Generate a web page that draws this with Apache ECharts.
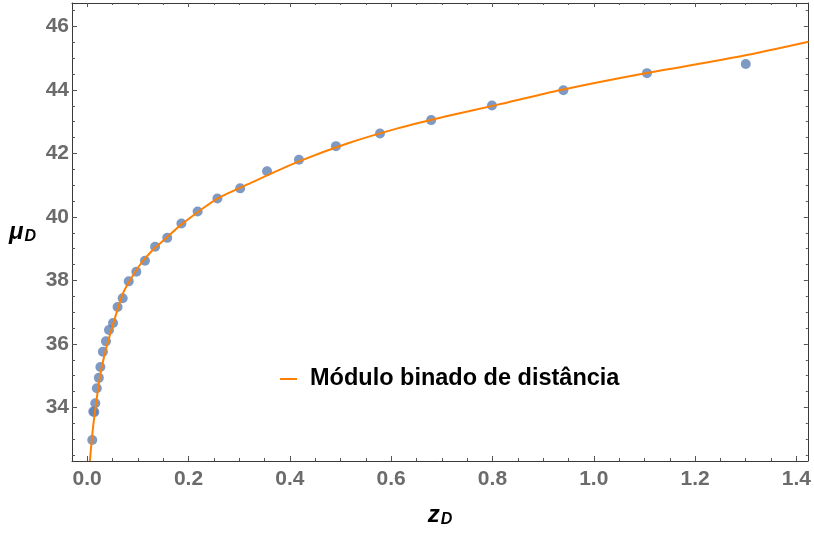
<!DOCTYPE html>
<html>
<head>
<meta charset="utf-8">
<title>Módulo de distância</title>
<script src="https://cdn.jsdelivr.net/npm/echarts@6/dist/echarts.min.js"></script>
<style>
  html, body { margin: 0; padding: 0; background: #ffffff; }
  #chart { width: 814px; height: 534px; }
</style>
</head>
<body>
<div id="chart"></div>
<script>
// Binned supernova redshifts and distance moduli
const zBins = [0.010, 0.012, 0.014, 0.016, 0.019, 0.023, 0.026, 0.031, 0.037, 0.043,
               0.051, 0.060, 0.070, 0.082, 0.097, 0.114, 0.134, 0.158, 0.186, 0.218,
               0.257, 0.302, 0.355, 0.418, 0.491, 0.578, 0.679, 0.799, 0.940, 1.105, 1.300];
const muBins = [32.97, 33.87, 33.85, 34.13, 34.60, 34.93, 35.27, 35.75, 36.08, 36.44,
                36.66, 37.16, 37.44, 37.97, 38.27, 38.62, 39.06, 39.34, 39.79, 40.17,
                40.58, 40.90, 41.44, 41.80, 42.23, 42.63, 43.05, 43.51, 43.99, 44.53, 44.82];

// Model curve samples
const zCurve = [0.0053, 0.0072, 0.0117, 0.0184, 0.0263, 0.0366, 0.0478, 0.0576, 0.0705, 0.0870,
                0.1066, 0.1294, 0.1556, 0.1850, 0.2242, 0.2570, 0.3188, 0.4168, 0.5148, 0.6128,
                0.7108, 0.8087, 0.9347, 1.0993, 1.2928, 1.4240];
const muCurve = [32.31, 32.66, 33.39, 34.23, 35.07, 35.81, 36.44, 36.96, 37.59, 38.07,
                 38.54, 38.96, 39.33, 39.75, 40.22, 40.58, 41.04, 41.74, 42.32, 42.79,
                 43.18, 43.53, 44.00, 44.52, 45.07, 45.52];

// Tick values
const xMajor = [0.0, 0.2, 0.4, 0.6, 0.8, 1.0, 1.2, 1.4];
const xMinor = [0.05, 0.1, 0.15, 0.25, 0.3, 0.35, 0.45, 0.5, 0.55, 0.65, 0.7, 0.75,
                0.85, 0.9, 0.95, 1.05, 1.1, 1.15, 1.25, 1.3, 1.35];
const yMajor = [34, 36, 38, 40, 42, 44, 46];
const yMinor = [32.5, 33, 33.5, 34.5, 35, 35.5, 36.5, 37, 37.5, 38.5, 39, 39.5,
                40.5, 41, 41.5, 42.5, 43, 43.5, 44.5, 45, 45.5, 46.5];

const seriesName = 'Módulo binado de distância';

const X_MIN = -0.030, X_MAX = 1.4226;
const Y_MIN = 32.31, Y_MAX = 46.74;

const frameColor = '#3a3a3a';
const tickColor = '#555555';
const labelStyle = {
  color: '#6b6b6b',
  fontFamily: '"Liberation Sans", Arial, sans-serif',
  fontWeight: 'bold',
  fontSize: 21
};

function xAxisDef(position, ticks, len, opts) {
  return Object.assign({
    type: 'value',
    position: position,
    offset: 0,
    min: X_MIN,
    max: X_MAX,
    splitLine: { show: false },
    axisLine: { show: false, onZero: false },
    axisTick: { show: true, inside: true, length: len, customValues: ticks,
                lineStyle: { color: tickColor, width: 1 } },
    axisLabel: { show: false }
  }, opts || {});
}
function yAxisDef(position, ticks, len, opts) {
  return Object.assign({
    type: 'value',
    position: position,
    offset: 0,
    min: Y_MIN,
    max: Y_MAX,
    splitLine: { show: false },
    axisLine: { show: false, onZero: false },
    axisTick: { show: true, inside: true, length: len, customValues: ticks,
                lineStyle: { color: tickColor, width: 1 } },
    axisLabel: { show: false }
  }, opts || {});
}

const nameRich = {
  v: { fontFamily: '"Liberation Sans", Arial, sans-serif', fontWeight: 'bold',
       fontStyle: 'italic', fontSize: 24, color: '#000', lineHeight: 28 },
  s: { fontFamily: '"Liberation Sans", Arial, sans-serif', fontWeight: 'bold',
       fontStyle: 'italic', fontSize: 16, color: '#000', lineHeight: 28,
       padding: [10, 0, 0, 1] }
};

const chart = echarts.init(document.getElementById('chart'), null, { renderer: 'canvas' });

chart.setOption({
  animation: false,
  backgroundColor: '#ffffff',
  grid: { left: 72, right: 2, top: 3, bottom: 73, containLabel: false },
  legend: {
    data: [seriesName],
    left: 280,
    top: 367,
    padding: 0,
    icon: 'rect',
    itemWidth: 17,
    itemHeight: 2,
    textStyle: {
      color: '#000',
      fontFamily: '"Liberation Sans", Arial, sans-serif',
      fontWeight: 'bold',
      fontSize: 23.5,
      padding: [0, 0, 0, 8]
    }
  },
  xAxis: [
    xAxisDef('bottom', xMajor, 5, {
      axisLine: { show: true, onZero: false, lineStyle: { color: frameColor, width: 1 } },
      axisLabel: Object.assign({ show: true, customValues: xMajor, margin: 8,
                                 formatter: v => v.toFixed(1) }, labelStyle),
      name: '{v|z}{s|D}',
      nameLocation: 'middle',
      nameGap: 40,
      nameTextStyle: { rich: nameRich }
    }),
    xAxisDef('bottom', xMinor, 3),
    xAxisDef('top', xMajor, 4, {
      axisLine: { show: true, onZero: false, lineStyle: { color: frameColor, width: 1 } }
    }),
    xAxisDef('top', xMinor, 2)
  ],
  yAxis: [
    yAxisDef('left', yMajor, 5, {
      axisLine: { show: true, onZero: false, lineStyle: { color: frameColor, width: 1 } },
      axisLabel: Object.assign({ show: true, customValues: yMajor, margin: 3,
                                 formatter: v => String(v) }, labelStyle),
      name: '{v|μ}{s|D}',
      nameLocation: 'middle',
      nameRotate: 0,
      nameGap: 36,
      nameTextStyle: { rich: nameRich }
    }),
    yAxisDef('left', yMinor, 3),
    yAxisDef('right', yMajor, 4, {
      axisLine: { show: true, onZero: false, lineStyle: { color: frameColor, width: 1 } }
    }),
    yAxisDef('right', yMinor, 2)
  ],
  series: [
    {
      name: 'dados',
      type: 'scatter',
      xAxisIndex: 0,
      yAxisIndex: 0,
      symbol: 'circle',
      symbolSize: 10,
      itemStyle: { color: '#5e81b5' },
      data: zBins.map((z, i) => [z, muBins[i]]),
      z: 2
    },
    {
      name: seriesName,
      type: 'line',
      xAxisIndex: 0,
      yAxisIndex: 0,
      showSymbol: false,
      symbol: 'none',
      smooth: 0.25,
      clip: true,
      lineStyle: { color: '#ff8000', width: 2 },
      itemStyle: { color: '#ff8000' },
      data: zCurve.map((z, i) => [z, muCurve[i]]),
      z: 3
    }
  ]
});
</script>
</body>
</html>
